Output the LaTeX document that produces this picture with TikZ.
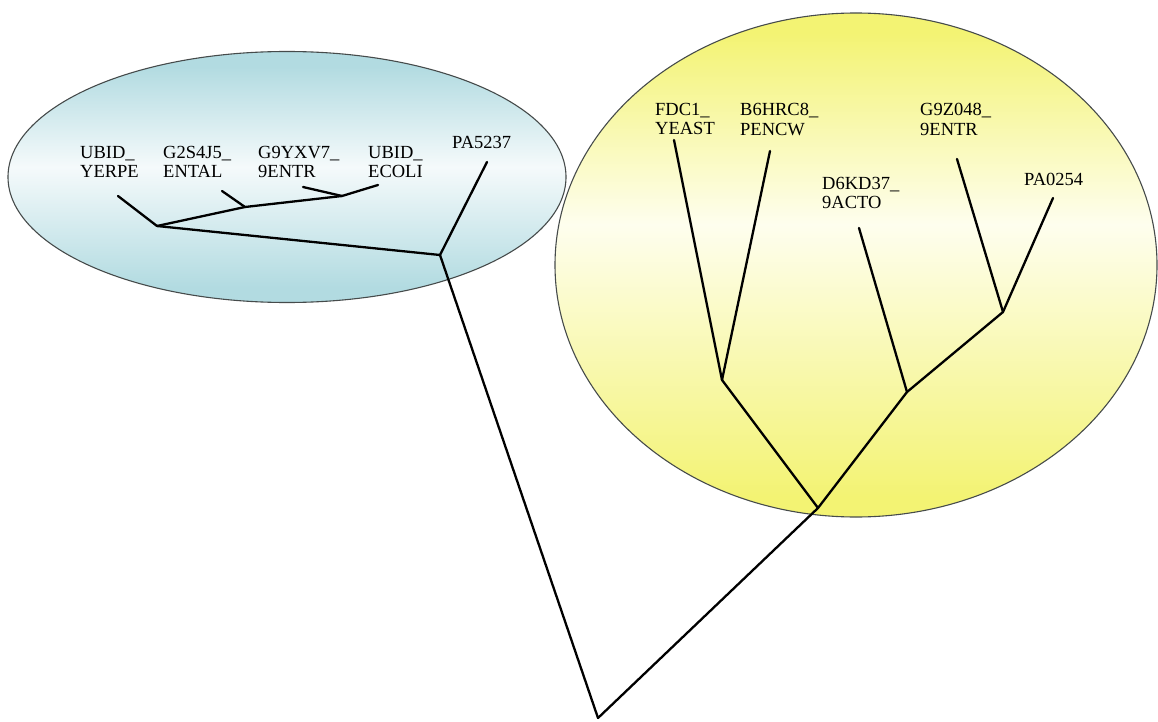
\documentclass[tikz,border=0pt]{standalone}
\usepackage{fontspec}
\setmainfont{Liberation Serif}
\definecolor{bluedark}{RGB}{178,219,225}
\definecolor{bluelight}{RGB}{245,250,251}
\definecolor{yelldark}{RGB}{243,243,115}
\definecolor{yelllight}{RGB}{254,254,238}
\definecolor{rimgray}{RGB}{70,75,75}
\pgfdeclareverticalshading{blueshade}{100bp}{color(0bp)=(bluedark); color(28bp)=(bluedark); color(52bp)=(bluelight); color(72bp)=(bluedark); color(100bp)=(bluedark)}
\pgfdeclareverticalshading{yellshade}{100bp}{color(0bp)=(yelldark); color(27bp)=(yelldark); color(54bp)=(yelllight); color(73bp)=(yelldark); color(100bp)=(yelldark)}
\begin{document}
\begin{tikzpicture}[x=1pt,y=-1pt,
  branch/.style={line width=2.3pt,line cap=round,line join=round,black},
  blob/.style={draw=rimgray,line width=1.1pt},
  lab/.style={align=left,anchor=north west,inner sep=0pt,font=\fontsize{18.5}{19.5}\selectfont}]
\useasboundingbox (0,0) rectangle (1158,722);
% clusters
\path[blob,shading=blueshade] (287,177) ellipse [x radius=279,y radius=125.5];
\path[blob,shading=yellshade] (856,265) ellipse [x radius=301,y radius=252];
% labels
\node[lab] (l1) at (80,146) {UBID\_\\YERPE};
\node[lab] (l2) at (163,146) {G2S4J5\_\\ENTAL};
\node[lab] (l3) at (258,146) {G9YXV7\_\\9ENTR};
\node[lab] (l4) at (368,146) {UBID\_\\ECOLI};
\node[lab] (l5) at (452,136) {PA5237};
\node[lab] (l6) at (655,103) {FDC1\_\\YEAST};
\node[lab] (l7) at (740,103) {B6HRC8\_\\PENCW};
\node[lab] (l8) at (822,177) {D6KD37\_\\9ACTO};
\node[lab] (l9) at (920,103) {G9Z048\_\\9ENTR};
\node[lab] (l10) at (1024,173) {PA0254};
% leaf tips
\coordinate (t1) at (118,196);
\coordinate (t2) at (222,191);
\coordinate (t3) at (303,187);
\coordinate (t4) at (378,185);
\coordinate (t5) at (487,162);
\coordinate (t6) at (674,140);
\coordinate (t7) at (770,151);
\coordinate (t8) at (859,228);
\coordinate (t9) at (957,159);
\coordinate (t10) at (1053,198);
% internal nodes
\coordinate (a) at (157,226);
\coordinate (b) at (245,207);
\coordinate (c) at (342,196);
\coordinate (d) at (440,255);
\coordinate (root) at (598,718);
\coordinate (e) at (818,508);
\coordinate (f) at (722,380);
\coordinate (g) at (907,392);
\coordinate (h) at (1003,312);
% branches
\draw[branch] (t1) -- (a);
\draw[branch] (t2) -- (b);
\draw[branch] (t3) -- (c);
\draw[branch] (t4) -- (c);
\draw[branch] (a) -- (b);
\draw[branch] (b) -- (c);
\draw[branch] (a) -- (d);
\draw[branch] (t5) -- (d);
\draw[branch] (d) -- (root);
\draw[branch] (root) -- (e);
\draw[branch] (e) -- (f);
\draw[branch] (t6) -- (f);
\draw[branch] (t7) -- (f);
\draw[branch] (e) -- (g);
\draw[branch] (t8) -- (g);
\draw[branch] (g) -- (h);
\draw[branch] (t9) -- (h);
\draw[branch] (t10) -- (h);
\end{tikzpicture}
\end{document}
